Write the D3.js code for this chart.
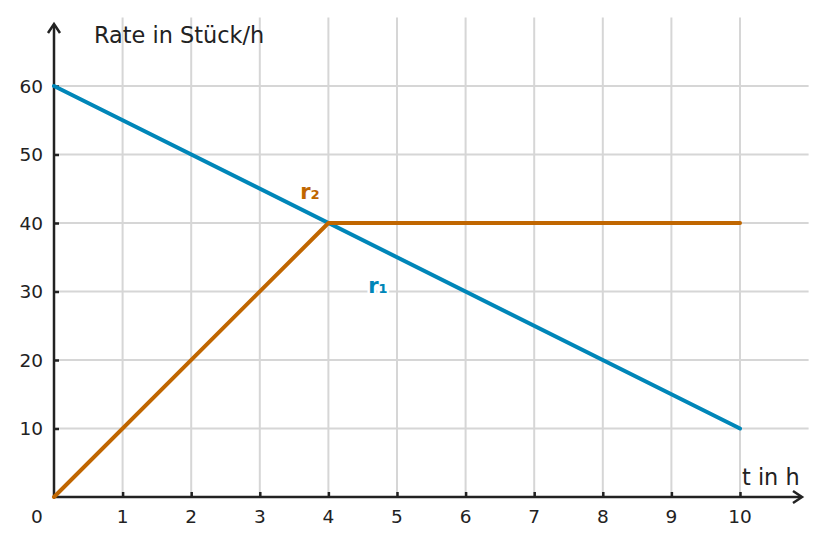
<!DOCTYPE html>
<html>
<head>
<meta charset="utf-8">
<script src="https://cdn.jsdelivr.net/npm/d3@7"></script>
<style>
  body { margin: 0; background: #fff; }
  text { font-family: "DejaVu Sans", sans-serif; fill: #222; }
</style>
</head>
<body>
<div id="chart"></div>
<script>
// data
const xTicks = [1, 2, 3, 4, 5, 6, 7, 8, 9, 10];
const yTicks = [10, 20, 30, 40, 50, 60];
const r1 = [{ t: 0, v: 60 }, { t: 10, v: 10 }];
const r2 = [{ t: 0, v: 0 }, { t: 4, v: 40 }, { t: 10, v: 40 }];
const seriesLabels = [
  { name: "r₂", t: 3.59, v: 43.5, color: "#c06600" },
  { name: "r₁", t: 4.58, v: 29.8, color: "#0086b8" },
];

const W = 827, H = 546;
const x = d3.scaleLinear().domain([0, 10]).range([54, 740]);
const y = d3.scaleLinear().domain([0, 60]).range([497, 86]);

const svg = d3.select("#chart").append("svg")
  .attr("width", W).attr("height", H);

// grid
const grid = svg.append("g").attr("stroke", "#d6d6d6").attr("stroke-width", 2);
grid.selectAll(".vg").data(xTicks).enter().append("line")
  .attr("x1", d => x(d)).attr("x2", d => x(d))
  .attr("y1", y(70)).attr("y2", y(0));
grid.selectAll(".hg").data(yTicks).enter().append("line")
  .attr("x1", x(0)).attr("x2", x(11))
  .attr("y1", d => y(d)).attr("y2", d => y(d));

// axes
const axisColor = "#222";
const xAxis = svg.append("g").attr("transform", `translate(0, ${y(0)})`)
  .call(d3.axisTop(x).tickValues(xTicks).tickSize(5).tickFormat(""));
const yAxis = svg.append("g").attr("transform", `translate(${x(0)}, 0)`)
  .call(d3.axisRight(y).tickValues(yTicks).tickSize(5).tickFormat(""));
[xAxis, yAxis].forEach(g => {
  g.select(".domain").remove();
  g.selectAll(".tick line").attr("stroke", axisColor).attr("stroke-width", 2.5);
});

svg.append("line")
  .attr("x1", x(0)).attr("x2", 801).attr("y1", y(0)).attr("y2", y(0))
  .attr("stroke", axisColor).attr("stroke-width", 2.5);
svg.append("line")
  .attr("x1", x(0)).attr("x2", x(0)).attr("y1", y(0)).attr("y2", 25)
  .attr("stroke", axisColor).attr("stroke-width", 2.5);
// arrow heads
svg.append("path")
  .attr("d", `M793,${y(0) - 6} L802,${y(0)} L793,${y(0) + 6}`)
  .attr("fill", "none").attr("stroke", axisColor).attr("stroke-width", 2.5);
svg.append("path")
  .attr("d", `M${x(0) - 6},33 L${x(0)},24 L${x(0) + 6},33`)
  .attr("fill", "none").attr("stroke", axisColor).attr("stroke-width", 2.5);

// tick labels
svg.selectAll(".xl").data(xTicks).enter().append("text")
  .attr("x", d => x(d)).attr("y", 523)
  .attr("text-anchor", "middle").attr("font-size", 18.5)
  .text(d => d);
svg.append("text").attr("x", 37).attr("y", 523)
  .attr("text-anchor", "middle").attr("font-size", 18.5).text("0");
svg.selectAll(".yl").data(yTicks).enter().append("text")
  .attr("x", 43).attr("y", d => y(d) + 6.5)
  .attr("text-anchor", "end").attr("font-size", 18.5)
  .text(d => d);

// axis titles
svg.append("text").attr("x", 94).attr("y", 43)
  .attr("font-size", 22.4).text("Rate in Stück/h");
svg.append("text").attr("x", 742).attr("y", 485)
  .attr("font-size", 22.4).text("t in h");

// lines
const line = d3.line().x(d => x(d.t)).y(d => y(d.v));
svg.append("path").datum(r1).attr("d", line)
  .attr("fill", "none").attr("stroke", "#0086b8").attr("stroke-width", 4)
  .attr("stroke-linecap", "round");
svg.append("path").datum(r2).attr("d", line)
  .attr("fill", "none").attr("stroke", "#c06600").attr("stroke-width", 4)
  .attr("stroke-linecap", "round").attr("stroke-linejoin", "round");

// series labels
svg.selectAll(".sl").data(seriesLabels).enter().append("text")
  .attr("x", d => x(d.t)).attr("y", d => y(d.v))
  .attr("font-size", 21).attr("font-weight", "bold")
  .attr("stroke", "#fff").attr("stroke-width", 5).attr("paint-order", "stroke")
  .style("fill", d => d.color)
  .text(d => d.name);
</script>
</body>
</html>
